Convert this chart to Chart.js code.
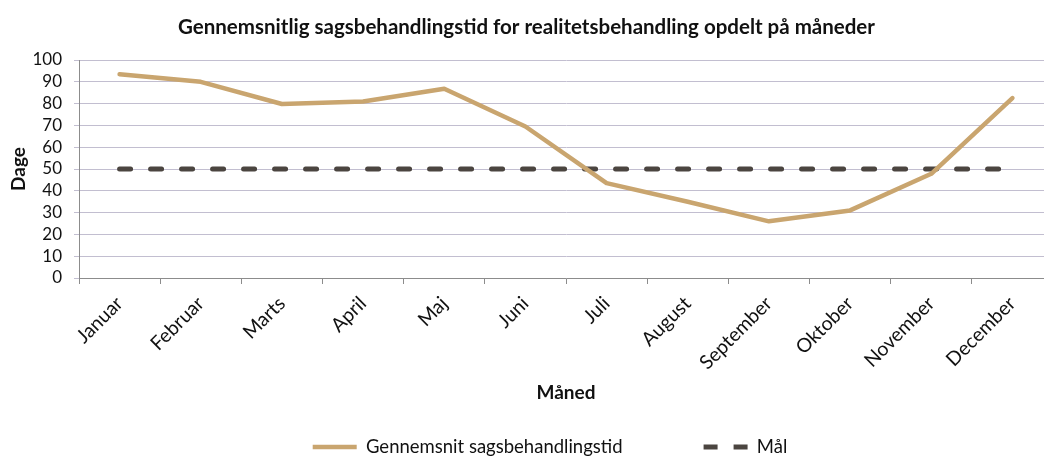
<!DOCTYPE html>
<html><head><meta charset="utf-8">
<script src="https://cdn.jsdelivr.net/npm/chart.js@4.4.1/dist/chart.umd.min.js"></script>
<style>html,body{margin:0;padding:0;background:#fff;overflow:hidden}#wrap{width:1060px;height:456px}</style>
</head><body><div id="wrap"><canvas id="c" width="1060" height="456"></canvas></div>
<script>
const months = ['Januar','Februar','Marts','April','Maj','Juni','Juli','August','September','Oktober','November','December'];
const avgDays = [93.5, 90, 79.8, 81, 86.8, 69.5, 43.5, 35, 26, 31, 47.8, 82.5];
const goalDays = [50, 50, 50, 50, 50, 50, 50, 50, 50, 50, 50, 50];
const seriesNames = ['Gennemsnit sagsbehandlingstid', 'Mål'];
const yMin = 0, yMax = 100, yStep = 10;

const FONT = 'Lato, "Open Sans", sans-serif';
const gridColor = '#c2bed0';
const axisColor = '#8c8c8c';
const LEG_PAD = 81, LEG_FONT = 18.5, LEG_H = 76, LEG_SHIFT = 23.5;
const PLOT_BOTTOM = 278, CANVAS_H = 456;

const legendShift = {
  id: 'legendShift',
  afterLayout(chart) {
    const lg = chart.legend;
    if (!lg) return;
    const top = 447 - LEG_PAD - LEG_FONT / 2;
    lg.top = top; lg.bottom = CANVAS_H; lg.height = CANVAS_H - top;
    lg.left += LEG_SHIFT; lg.right += LEG_SHIFT;
  }
};

new Chart(document.getElementById('c'), {
  type: 'line',
  data: {
    labels: months,
    datasets: [
      { label: seriesNames[0], data: avgDays, borderColor: '#c9a56f', backgroundColor: '#c9a56f',
        borderWidth: 4.5, pointRadius: 0, tension: 0, borderCapStyle: 'round', borderJoinStyle: 'round' },
      { label: seriesNames[1], data: goalDays, borderColor: '#4b4540', backgroundColor: '#4b4540',
        borderWidth: 5, borderDash: [11, 20], borderCapStyle: 'round', pointRadius: 0, tension: 0 }
    ]
  },
  plugins: [legendShift],
  options: {
    responsive: false,
    animation: false,
    layout: { padding: { left: 0, right: 7, top: 0, bottom: 0 } },
    plugins: {
      tooltip: { enabled: false },
      title: { display: true, text: 'Gennemsnitlig sagsbehandlingstid for realitetsbehandling opdelt på måneder',
        color: '#111', font: { family: FONT, size: 20.5, weight: 'bold' }, padding: { top: 14.7, bottom: 20.7 } },
      legend: { position: 'bottom', maxHeight: LEG_H,
        labels: { usePointStyle: true, pointStyle: 'line', pointStyleWidth: 44, padding: LEG_PAD,
          color: '#111', font: { family: FONT, size: LEG_FONT },
          generateLabels: chart => {
            const items = Chart.defaults.plugins.legend.labels.generateLabels(chart);
            if (items[1]) { items[1].lineDash = [14, 16]; }
            return items;
          } } }
    },
    scales: {
      x: {
        offset: true,
        grid: { drawOnChartArea: false, offset: true, drawTicks: true, tickLength: 6, color: axisColor },
        border: { display: true, color: axisColor },
        ticks: { minRotation: 45, maxRotation: 45, autoSkip: false, color: '#111', font: { family: FONT, size: 19.5 }, padding: 8 },
        title: { display: true, text: 'Måned', color: '#111', font: { family: FONT, size: 19, weight: 'bold' },
          padding: { top: 0, bottom: (CANVAS_H - LEG_H) - 11.4 - 393 } },
        afterFit: s => { s.height = CANVAS_H - LEG_H - PLOT_BOTTOM; }
      },
      y: {
        min: yMin, max: yMax,
        grid: { color: gridColor, lineWidth: 1, tickLength: 5, drawTicks: true },
        border: { display: true, color: axisColor },
        ticks: { stepSize: yStep, autoSkip: false, color: '#111', font: { family: FONT, size: 17 }, padding: 12 },
        title: { display: true, text: 'Dage', color: '#111', font: { family: FONT, size: 19, weight: 'bold' },
          padding: { top: 7, bottom: 0 } },
        afterFit: s => { s.width = 79; }
      }
    }
  }
});
</script></body></html>
